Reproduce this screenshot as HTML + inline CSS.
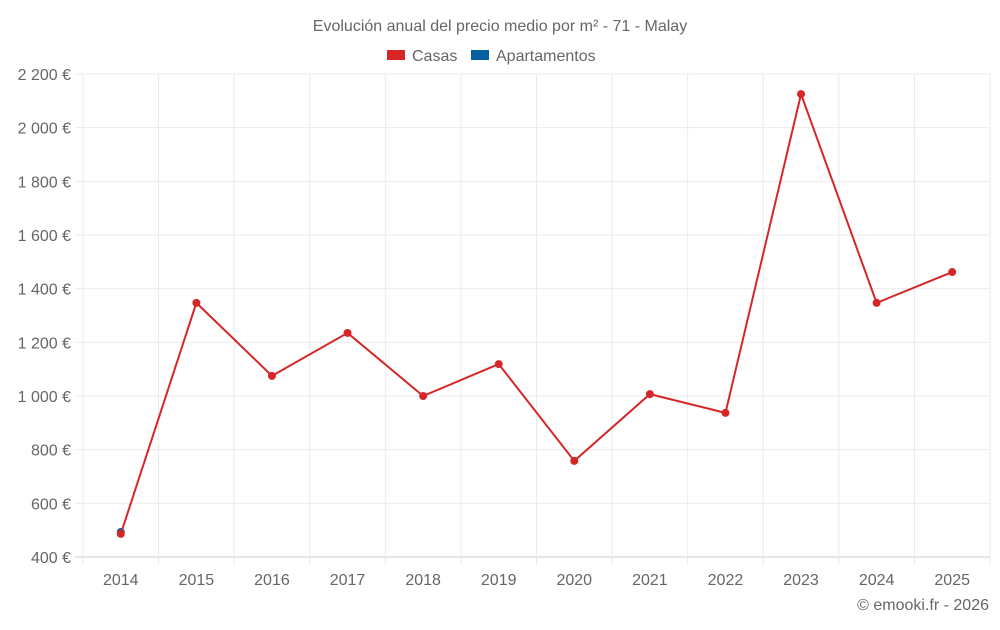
<!DOCTYPE html>
<html><head><meta charset="utf-8">
<style>
body{margin:0;background:#fff;width:1000px;height:625px;overflow:hidden;font-family:"Liberation Sans",sans-serif;}
svg text{font-family:"Liberation Sans",sans-serif;fill:#666;}
</style></head>
<body>
<svg id="chart" width="1000" height="625">
<text x="500" y="31" text-anchor="middle" font-size="16">Evolución anual del precio medio por m² - 71 - Malay</text>
<g>
<rect x="387" y="50" width="18" height="10" fill="#d62728"/>
<text x="412" y="61" font-size="16">Casas</text>
<rect x="471" y="50" width="18" height="10" fill="#0060a0"/>
<text x="496" y="61" font-size="16">Apartamentos</text>
</g>
<g id="grid"></g><g id="axes"></g><g id="series"></g>
<text x="989" y="610" text-anchor="end" font-size="16">© emooki.fr - 2026</text>
</svg>
<script>
const years=[2014,2015,2016,2017,2018,2019,2020,2021,2022,2023,2024,2025];
const casas=[486,1347,1075,1235,1000,1119,758,1007,937,2125,1347,1462];
const apartamentos=[493,null,null,null,null,null,null,null,null,null,null,null];
const yTicks=[400,600,800,1000,1200,1400,1600,1800,2000,2200];
const yTickLabels=["400 €","600 €","800 €","1 000 €","1 200 €","1 400 €","1 600 €","1 800 €","2 000 €","2 200 €"];
const NS="http://www.w3.org/2000/svg";
const plotL=83,plotR=990,plotT=74,plotB=557;
const band=(plotR-plotL)/years.length;
function xs(i){return plotL+band*(i+0.5);}
function ys(v){return plotB-(v-400)/(2200-400)*(plotB-plotT);}
function mk(t,a,p){const e=document.createElementNS(NS,t);for(const k in a)e.setAttribute(k,a[k]);p.appendChild(e);return e;}
const gG=document.getElementById('grid'),gA=document.getElementById('axes'),gS=document.getElementById('series');
yTicks.forEach((v,i)=>{
 const l=mk('line',{x1:plotL-8,x2:plotR,y1:ys(v),y2:ys(v),stroke:i==0?'#ccc':'#ebebeb'},gG);
 
 
 const t=mk('text',{x:71,y:ys(v)+6,'text-anchor':'end','font-size':16},gA);
 t.textContent=yTickLabels[i];
 
 
});
for(let i=0;i<=years.length;i++){
 const l=mk('line',{x1:plotL+band*i,x2:plotL+band*i,y1:plotT,y2:plotB+8,stroke:'#ebebeb'},gG);
 
 
}
years.forEach((yr,i)=>{
 const t=mk('text',{x:xs(i),y:585,'text-anchor':'middle','font-size':16},gA);
 t.textContent=yr;
 
 
});
function drawSeries(data,color,name){
 let d='';data.forEach((v,i)=>{if(v!=null)d+=(d?'L':'M')+xs(i)+','+ys(v);});
 const p=mk('path',{d:d,fill:'none',stroke:color,'stroke-width':2},gS);
 
 
 data.forEach((v,i)=>{if(v==null)return;
  const c=mk('circle',{cx:xs(i),cy:ys(v),r:4,fill:color},gS);
  
  
 });
}
drawSeries(apartamentos,'#0060a0','apartamentos');
drawSeries(casas,'#d62728','casas');
</script>
</body></html>
